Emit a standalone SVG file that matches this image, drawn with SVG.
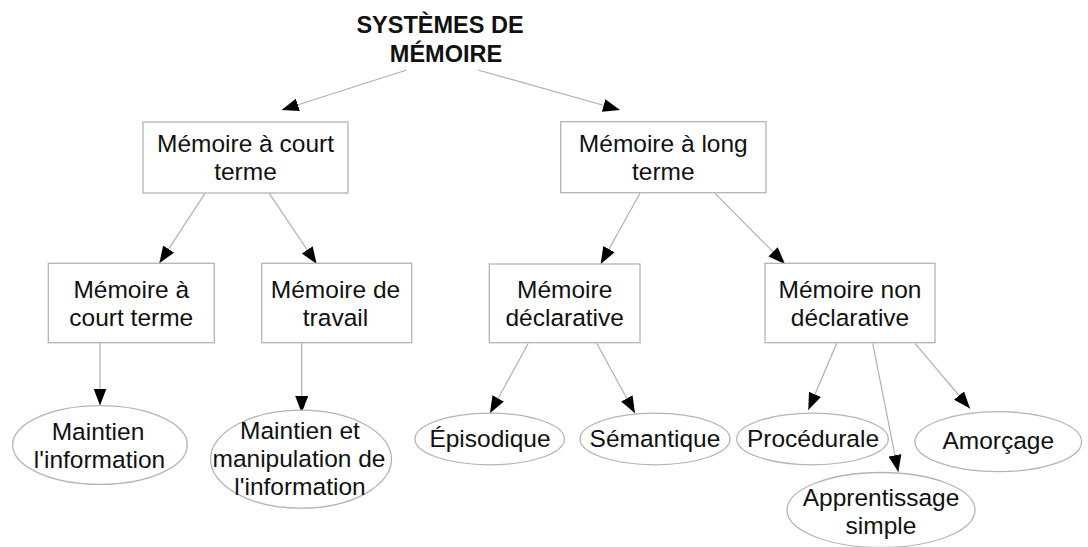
<svg xmlns="http://www.w3.org/2000/svg" width="1088" height="547" viewBox="0 0 1088 547">
<style>
.box{fill:#fff;stroke:#b4b4b4;stroke-width:1.3}
.ell{fill:#fff;stroke:#b4b4b4;stroke-width:1.3}
.t{font-family:"Liberation Sans",Arial,sans-serif;font-size:24.5px;fill:#111;text-anchor:middle}
.title{font-family:"Liberation Sans",Arial,sans-serif;font-size:23.5px;font-weight:bold;fill:#111;text-anchor:middle}
.edge{stroke:#b0b0b0;stroke-width:1.2;fill:none;marker-end:url(#ah)}
</style>
<defs>
<marker id="ah" markerUnits="userSpaceOnUse" markerWidth="17" markerHeight="13" viewBox="0 0 17 13" refX="17" refY="6.5" orient="auto">
<path d="M0,0 L17,6.5 L0,13 z" fill="#000"/>
</marker>
</defs>
<rect width="1088" height="547" fill="#fff"/>

<g id="connectors">
<line class="edge" x1="406.7" y1="70" x2="281.7" y2="110"/>
<line class="edge" x1="478" y1="70" x2="620" y2="110"/>
<line class="edge" x1="205" y1="193.3" x2="159.3" y2="263.3"/>
<line class="edge" x1="269.3" y1="193.3" x2="316.7" y2="264"/>
<line class="edge" x1="640" y1="193.3" x2="600.7" y2="264"/>
<line class="edge" x1="715" y1="193.3" x2="785" y2="264"/>
<line class="edge" x1="100" y1="342.7" x2="100" y2="405.5"/>
<line class="edge" x1="301.7" y1="342.7" x2="301.7" y2="413"/>
<line class="edge" x1="528.3" y1="343.3" x2="490" y2="413.3"/>
<line class="edge" x1="596.7" y1="343.3" x2="635" y2="413.3"/>
<line class="edge" x1="836.7" y1="343.3" x2="808.3" y2="410"/>
<line class="edge" x1="872.7" y1="343.3" x2="898.3" y2="472"/>
<line class="edge" x1="915" y1="343.3" x2="970" y2="408.5"/>
</g>

<g id="title">
<text class="title" x="440" y="33">SYSTÈMES DE</text>
<text class="title" x="446" y="61.7">MÉMOIRE</text>
</g>

<g id="court-terme">
<rect class="box" x="143" y="122" width="205" height="71"/>
<text class="t" x="245.5" y="152">Mémoire à court</text>
<text class="t" x="245.5" y="180">terme</text>
</g>

<g id="long-terme">
<rect class="box" x="560.7" y="121.7" width="205.3" height="71"/>
<text class="t" x="663.3" y="152">Mémoire à long</text>
<text class="t" x="663.3" y="180">terme</text>
</g>

<g id="court-terme-2">
<rect class="box" x="48.3" y="263.3" width="166" height="79.4"/>
<text class="t" x="131.3" y="298.3">Mémoire à</text>
<text class="t" x="131.3" y="326">court terme</text>
</g>

<g id="travail">
<rect class="box" x="261.7" y="263.3" width="150" height="79.4"/>
<text class="t" x="335.5" y="298.3">Mémoire de</text>
<text class="t" x="335.5" y="326">travail</text>
</g>

<g id="declarative">
<rect class="box" x="489.3" y="264" width="150.7" height="78.7"/>
<text class="t" x="564.7" y="298.3">Mémoire</text>
<text class="t" x="564.7" y="326">déclarative</text>
</g>

<g id="non-declarative">
<rect class="box" x="765" y="263.3" width="170" height="79.4"/>
<text class="t" x="850" y="298.3">Mémoire non</text>
<text class="t" x="850" y="326">déclarative</text>
</g>

<g id="maintien">
<ellipse class="ell" cx="100" cy="445" rx="87.3" ry="39.3"/>
<text class="t" x="98" y="440">Maintien</text>
<text class="t" x="99.5" y="468.3">l'information</text>
</g>

<g id="manipulation">
<ellipse class="ell" cx="301" cy="459.2" rx="90.5" ry="49"/>
<text class="t" x="300" y="439.3">Maintien et</text>
<text class="t" x="299" y="466.7">manipulation de</text>
<text class="t" x="300" y="495">l'information</text>
</g>

<g id="episodique">
<ellipse class="ell" cx="489.7" cy="439" rx="74.7" ry="25.8"/>
<text class="t" x="490" y="446.7">Épisodique</text>
</g>

<g id="semantique">
<ellipse class="ell" cx="655" cy="439" rx="75" ry="25.8"/>
<text class="t" x="655" y="446.7">Sémantique</text>
</g>

<g id="procedurale">
<ellipse class="ell" cx="812.5" cy="439" rx="75.8" ry="25.8"/>
<text class="t" x="813" y="446.7">Procédurale</text>
</g>

<g id="amorcage">
<ellipse class="ell" cx="998.3" cy="441.7" rx="83.3" ry="30"/>
<text class="t" x="998.3" y="449.3">Amorçage</text>
</g>

<g id="apprentissage">
<ellipse class="ell" cx="881" cy="510" rx="94" ry="37.5"/>
<text class="t" x="881" y="506">Apprentissage</text>
<text class="t" x="881" y="534">simple</text>
</g>
</svg>
